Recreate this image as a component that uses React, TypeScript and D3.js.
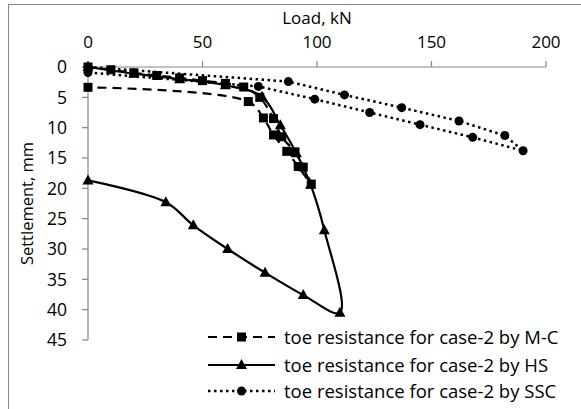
import React from "react";
import * as d3 from "d3";

// Load (kN) / settlement (mm) pairs, in drawing order (loading then unloading)
const mcLoad = [0, 10, 20, 30, 40, 50, 60, 68, 75, 81, 84.6, 90.4, 94, 97.5, 91.8, 86.8, 81, 76.6, 70, 0];
const mcSettle = [0, 0.45, 0.95, 1.4, 1.8, 2.25, 2.7, 3.3, 5.0, 8.5, 11.5, 14, 16.5, 19.3, 16.4, 13.9, 11.2, 8.4, 5.7, 3.35];

const hsLoad = [0, 20, 40, 60, 76, 84, 91, 97.2, 103.2, 110, 94, 77.3, 61, 46, 34, 0];
const hsSettle = [0, 1.1, 2.0, 3.0, 4.9, 9.6, 14.2, 19.4, 26.9, 40.5, 37.6, 33.9, 30, 26.1, 22.3, 18.7];

const sscLoad = [0, 87.5, 112, 137, 162, 182, 190, 168, 145, 123, 99, 74.4, 0];
const sscSettle = [0, 2.4, 4.6, 6.7, 8.9, 11.3, 13.8, 11.6, 9.5, 7.5, 5.3, 3.2, 0.9];

const xTicks = [0, 50, 100, 150, 200];
const yTicks = [0, 5, 10, 15, 20, 25, 30, 35, 40, 45];

const seriesNames = [
  "toe resistance for case-2 by M-C",
  "toe resistance for case-2 by HS",
  "toe resistance for case-2 by SSC",
];

const FONT = "'Open Sans', 'Noto Sans', sans-serif";
const AXIS = "#868686";

type Pt = [number, number];

function zip(xs: number[], ys: number[]): Pt[] {
  return xs.map((x, i) => [x, ys[i]]);
}

function Marker({ kind, x, y }: { kind: string; x: number; y: number }) {
  if (kind === "square")
    return <rect x={x - 4.5} y={y - 4.5} width={9} height={9} fill="#000" />;
  if (kind === "triangle")
    return <path d={`M${x},${y - 6}L${x + 5.5},${y + 4}L${x - 5.5},${y + 4}Z`} fill="#000" />;
  return <circle cx={x} cy={y} r={4.5} fill="#000" />;
}

export default function App() {
  const width = 581;
  const height = 409;

  const x = d3.scaleLinear().domain([0, 200]).range([88, 546]);
  const y = d3.scaleLinear().domain([0, 45]).range([67, 340]);

  const series = [
    { pts: zip(mcLoad, mcSettle), marker: "square", dash: "9,6", width: 2.2, curve: d3.curveCatmullRom.alpha(0.5) },
    { pts: zip(hsLoad, hsSettle), marker: "triangle", dash: undefined, width: 2.2, curve: d3.curveCatmullRom.alpha(0.5) },
    { pts: zip(sscLoad, sscSettle), marker: "circle", dash: "2.5,3.5", width: 2.5, curve: d3.curveLinear },
  ];

  const legendY = [337, 365, 391];

  return (
    <svg
      width={width}
      height={height}
      style={{ position: "absolute", left: 0, top: 0, background: "#fff" }}
      fontFamily={FONT}
    >
      <rect x={8.5} y={4.5} width={width} height={height} fill="#fff" stroke={AXIS} strokeWidth={1} />

      {/* x axis on top */}
      <line x1={x(0)} x2={x(200)} y1={y(0)} y2={y(0)} stroke={AXIS} strokeWidth={1.2} />
      {xTicks.map((t) => (
        <g key={"xt" + t}>
          <line x1={x(t)} x2={x(t)} y1={y(0) - 6} y2={y(0)} stroke={AXIS} strokeWidth={1.2} />
          <text x={x(t)} y={47.5} textAnchor="middle" fontSize={17} fill="#000">
            {t}
          </text>
        </g>
      ))}
      <text x={x(100)} y={24} textAnchor="middle" fontSize={17} fill="#000">
        Load, kN
      </text>

      {/* y axis */}
      <line x1={x(0)} x2={x(0)} y1={y(0)} y2={y(45)} stroke={AXIS} strokeWidth={1.2} />
      {yTicks.map((t) => (
        <g key={"yt" + t}>
          <line x1={x(0) - 6} x2={x(0)} y1={y(t)} y2={y(t)} stroke={AXIS} strokeWidth={1.2} />
          <text x={67} y={y(t)} dy="0.36em" textAnchor="end" fontSize={17.5} fill="#000">
            {t}
          </text>
        </g>
      ))}
      <text
        transform={`translate(33, ${(y(0) + y(45)) / 2}) rotate(-90)`}
        textAnchor="middle"
        fontSize={16.5}
        fill="#000"
      >
        Settlement, mm
      </text>

      {/* series */}
      {series.map((s, i) => {
        const gen = d3
          .line<Pt>()
          .x((d) => x(d[0]))
          .y((d) => y(d[1]))
          .curve(s.curve);
        return (
          <g key={"s" + i}>
            <path d={gen(s.pts) || ""} fill="none" stroke="#000" strokeWidth={s.width} strokeDasharray={s.dash} />
            {s.pts.map((p, j) => (
              <Marker key={j} kind={s.marker} x={x(p[0])} y={y(p[1])} />
            ))}
          </g>
        );
      })}

      {/* legend */}
      {series.map((s, i) => (
        <g key={"lg" + i}>
          <line
            x1={208}
            x2={275}
            y1={legendY[i]}
            y2={legendY[i]}
            stroke="#000"
            strokeWidth={s.width}
            strokeDasharray={s.dash}
          />
          <Marker kind={s.marker} x={241.5} y={legendY[i]} />
          <text x={284} y={legendY[i]} dy="0.36em" fontSize={18.5} fill="#000">
            {seriesNames[i]}
          </text>
        </g>
      ))}
    </svg>
  );
}
